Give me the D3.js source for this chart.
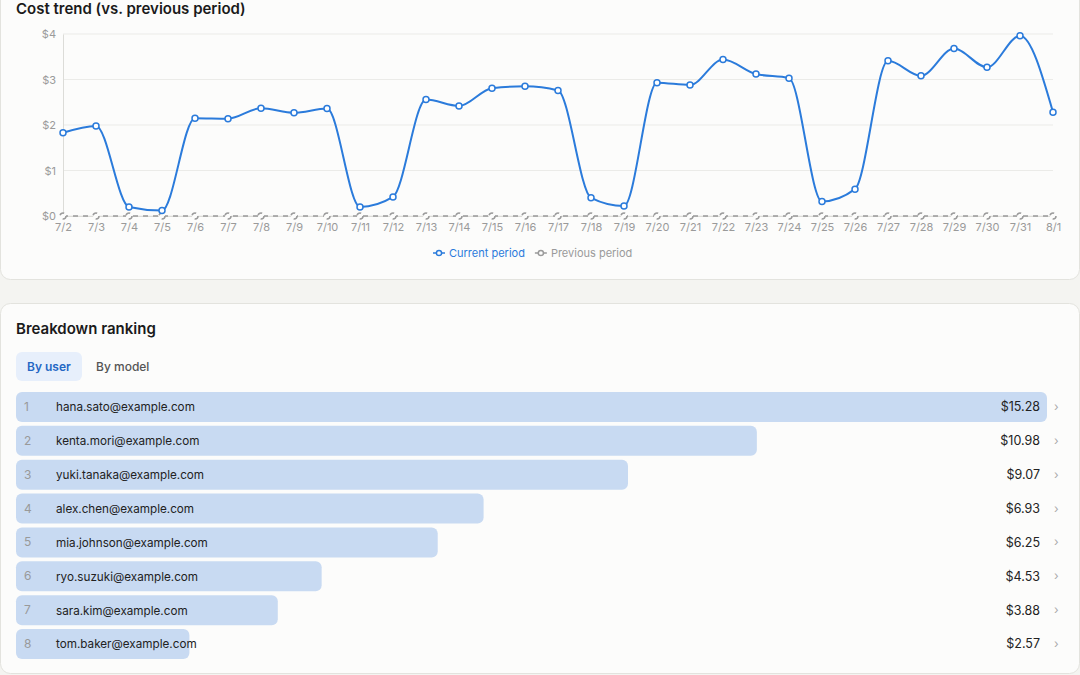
<!DOCTYPE html>
<html>
<head>
<meta charset="utf-8">
<script src="https://cdn.jsdelivr.net/npm/d3@7/dist/d3.min.js"></script>
<style>
  html, body { margin: 0; padding: 0; background: #f4f4f1; }
  svg { display: block; font-family: Inter, "Noto Sans", sans-serif; }
</style>
</head>
<body>
<svg width="1080" height="675"></svg>
<script>
const dates = ["7/2","7/3","7/4","7/5","7/6","7/7","7/8","7/9","7/10","7/11","7/12","7/13","7/14","7/15","7/16","7/17",
  "7/18","7/19","7/20","7/21","7/22","7/23","7/24","7/25","7/26","7/27","7/28","7/29","7/30","7/31","8/1"];
const current = [1.83,1.98,0.20,0.12,2.15,2.14,2.37,2.27,2.36,0.20,0.42,2.56,2.42,2.81,2.85,2.76,
  0.40,0.22,2.93,2.88,3.44,3.12,3.03,0.32,0.59,3.41,3.08,3.68,3.27,3.96,2.28];
const previous = [0,0,0,0,0,0,0,0,0,0,0,0,0,0,0,0,0,0,0,0,0,0,0,0,0,0,0,0,0,0,0];
const yTicks = [0,1,2,3,4];

const users = ["hana.sato@example.com","kenta.mori@example.com","yuki.tanaka@example.com","alex.chen@example.com",
  "mia.johnson@example.com","ryo.suzuki@example.com","sara.kim@example.com","tom.baker@example.com"];
const userCosts = [15.28,10.98,9.07,6.93,6.25,4.53,3.88,2.57];
const tabs = ["By user","By model"];

const svg = d3.select("svg");
const blue = "#2b7bdb", grey = "#9a9a9a";

// cards
svg.append("rect").attr("x",0.5).attr("y",-20).attr("width",1079).attr("height",299.5)
  .attr("rx",10).attr("fill","#fcfcfb").attr("stroke","#e3e3de");
svg.append("rect").attr("x",0.5).attr("y",303.5).attr("width",1079).attr("height",370)
  .attr("rx",10).attr("fill","#fcfcfb").attr("stroke","#e3e3de");

// ---- trend chart ----
svg.append("text").attr("x",16).attr("y",13.5).attr("font-size",15).attr("font-weight",600)
  .attr("fill","#1a1a1a").text("Cost trend (vs. previous period)");

const x = d3.scalePoint().domain(dates).range([63,1053]);
const y = d3.scaleLinear().domain([0,4]).range([216,34]);

const g = svg.append("g");

g.append("g").selectAll("line").data(yTicks).join("line")
  .attr("x1",63).attr("x2",1053).attr("y1",d => y(d)).attr("y2",d => y(d))
  .attr("stroke","#ebebe8");

const yAxis = g.append("g").attr("transform","translate(63,0)")
  .call(d3.axisLeft(y).tickValues(yTicks).tickFormat(d => "$" + d).tickSize(0).tickPadding(7));
yAxis.select(".domain").attr("stroke","#dcdcd8");
yAxis.selectAll("text").attr("fill",grey).attr("font-size",11).attr("font-family","Inter, sans-serif");

const xAxis = g.append("g").attr("transform","translate(0,216)")
  .call(d3.axisBottom(x).tickSize(0).tickPadding(7));
xAxis.select(".domain").attr("stroke","#dcdcd8");
xAxis.selectAll("text").attr("fill",grey).attr("font-size",11).attr("font-family","Inter, sans-serif");

const line = d3.line().curve(d3.curveMonotoneX).x((d,i) => x(dates[i])).y(d => y(d));

// previous period (dashed)
g.append("path").datum(previous).attr("d",line).attr("fill","none")
  .attr("stroke",grey).attr("stroke-width",1.5).attr("stroke-dasharray","5 5");
g.append("g").selectAll("circle").data(previous).join("circle")
  .attr("cx",(d,i) => x(dates[i])).attr("cy",d => y(d)).attr("r",3)
  .attr("fill","#fcfcfb").attr("stroke",grey).attr("stroke-width",1.5).attr("stroke-dasharray","5 5");

// current period
g.append("path").datum(current).attr("d",line).attr("fill","none")
  .attr("stroke",blue).attr("stroke-width",2);
g.append("g").selectAll("circle").data(current).join("circle")
  .attr("cx",(d,i) => x(dates[i])).attr("cy",d => y(d)).attr("r",3)
  .attr("fill","#fff").attr("stroke",blue).attr("stroke-width",1.5);

// legend
const legendItems = [
  {name:"Current period", color:blue},
  {name:"Previous period", color:grey}
];
const legend = svg.append("g").attr("transform","translate(0,253)");
let lx = 433;
legendItems.forEach(item => {
  const it = legend.append("g").attr("transform",`translate(${lx},0)`);
  it.append("line").attr("x1",0).attr("x2",12).attr("y1",0).attr("y2",0)
    .attr("stroke",item.color).attr("stroke-width",1.5);
  it.append("circle").attr("cx",6).attr("cy",0).attr("r",2.6)
    .attr("fill","#fcfcfb").attr("stroke",item.color).attr("stroke-width",1.5);
  const t = it.append("text").attr("x",16).attr("y",4).attr("font-size",11)
    .attr("fill",item.color).text(item.name);
  lx += 16 + t.node().getComputedTextLength() + 10;
});

// ---- ranking ----
svg.append("text").attr("x",16).attr("y",334).attr("font-size",15).attr("font-weight",600)
  .attr("fill","#1a1a1a").text("Breakdown ranking");

svg.append("rect").attr("x",16).attr("y",352).attr("width",66).attr("height",29).attr("rx",6)
  .attr("fill","#e7effb");
svg.selectAll(".tab").data(tabs).join("text").attr("class","tab")
  .attr("x",(d,i) => i === 0 ? 27 : 96).attr("y",371).attr("font-size",12)
  .attr("font-weight",(d,i) => i === 0 ? 600 : 500)
  .attr("fill",(d,i) => i === 0 ? "#2467c4" : "#555").text(d => d);

const bx = d3.scaleLinear().domain([0,d3.max(userCosts)]).range([0,1031]);
const by = d3.scaleBand().domain(users).range([392,659]).paddingInner(0.114).paddingOuter(0);

const rows = svg.append("g").selectAll("g").data(users).join("g")
  .attr("transform",d => `translate(0,${by(d)})`);
rows.append("rect").attr("x",16).attr("width",(d,i) => bx(userCosts[i])).attr("height",by.bandwidth())
  .attr("rx",6).attr("fill","#c8daf2");
rows.append("text").attr("x",24).attr("y",by.bandwidth()/2 + 4).attr("font-size",12)
  .attr("fill","#999").text((d,i) => i + 1);
rows.append("text").attr("x",56).attr("y",by.bandwidth()/2 + 4.5).attr("font-size",11.7)
  .attr("fill","#222").text(d => d);
rows.append("text").attr("x",1040).attr("y",by.bandwidth()/2 + 4.5).attr("font-size",12.5)
  .attr("text-anchor","end").attr("fill","#222").text((d,i) => "$" + userCosts[i].toFixed(2));
rows.append("text").attr("x",1054).attr("y",by.bandwidth()/2 + 4).attr("font-size",12)
  .attr("fill","#aaa").text("›");
</script>
</body>
</html>
